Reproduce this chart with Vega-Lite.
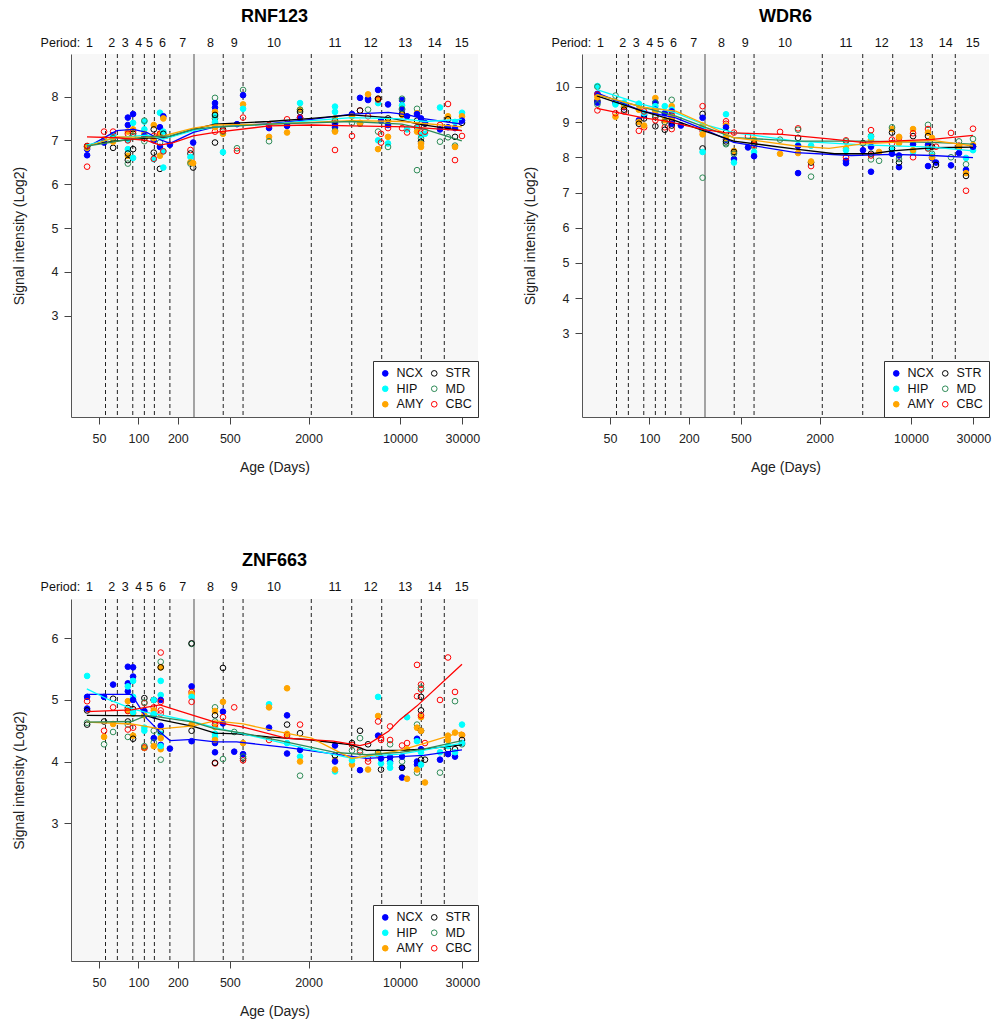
{
"$schema": "https://vega.github.io/schema/vega-lite/v6.json",
"padding": {"left": 12, "top": 7, "right": 4, "bottom": 2},
"config": {
 "font": "Liberation Sans",
 "view": {"fill": "#f7f7f7", "stroke": null},
 "axis": {"grid": false, "domainColor": "#555", "domainWidth": 1, "tickColor": "#444", "tickSize": 7, "labelFontSize": 12.5, "labelColor": "#222", "titleFontSize": 14, "titleFontWeight": "normal", "titleColor": "#222"},
 "axisX": {"labelPadding": 8, "titlePadding": 16},
 "axisY": {"labelPadding": 6, "titlePadding": 18},
 "title": {"fontSize": 18, "fontWeight": "bold", "color": "#000", "frame": "group", "offset": 11},
 "legend": {"orient": "bottom-right", "offset": 0, "padding": 6, "fillColor": "#ffffff", "strokeColor": "#333", "columns": 2, "symbolSize": 32, "symbolType": "circle", "symbolStrokeWidth": 1, "labelFontSize": 12.5, "labelColor": "#111", "rowPadding": 2.5, "columnPadding": 4, "labelOffset": 5}
},
"datasets": {
 "bnd": [{"a":56,"k":"p"},{"a":69,"k":"p"},{"a":90.5,"k":"p"},{"a":111,"k":"p"},{"a":132.4,"k":"p"},{"a":174,"k":"p"},{"a":266,"k":"b"},{"a":445,"k":"p"},{"a":631,"k":"p"},{"a":2098,"k":"p"},{"a":4276,"k":"p"},{"a":7250,"k":"p"},{"a":14555,"k":"p"},{"a":21820,"k":"p"}],
 "per": [{"t":"Period:","a":25.3},{"t":"1","a":42.2},{"t":"2","a":62.5},{"t":"3","a":79.4},{"t":"4","a":100.7},{"t":"5","a":121.2},{"t":"6","a":152.4},{"t":"7","a":218},{"t":"8","a":355},{"t":"9","a":541},{"t":"10","a":1089},{"t":"11","a":3185},{"t":"12","a":5970},{"t":"13","a":10980},{"t":"14","a":18440},{"t":"15","a":29640}],
 "p1": [
  {"r":"NCX","a":40.5,"v":6.66},{"r":"NCX","a":40.5,"v":6.8},{"r":"HIP","a":40.5,"v":6.85},{"r":"AMY","a":40.5,"v":6.83},{"r":"STR","a":40.5,"v":6.87},{"r":"MD","a":40.5,"v":6.86},{"r":"CBC","a":40.5,"v":6.4},{"r":"CBC","a":40.5,"v":6.87},
  {"r":"CBC","a":54.6,"v":7.2},{"r":"HIP","a":54.6,"v":7.0},{"r":"AMY","a":54.6,"v":7.02},{"r":"NCX","a":54.6,"v":6.95},
  {"r":"NCX","a":64,"v":7.12},{"r":"HIP","a":64,"v":7.1},{"r":"CBC","a":64,"v":7.2},{"r":"STR","a":64,"v":6.83},{"r":"AMY","a":64,"v":6.97},{"r":"MD","a":64,"v":7.05},
  {"r":"NCX","a":83,"v":7.52},{"r":"NCX","a":83,"v":7.35},{"r":"HIP","a":83,"v":7.0},{"r":"HIP","a":83,"v":6.8},{"r":"AMY","a":83,"v":7.2},{"r":"AMY","a":83,"v":6.65},{"r":"STR","a":83,"v":6.7},{"r":"STR","a":83,"v":6.55},{"r":"MD","a":83,"v":6.47},{"r":"CBC","a":83,"v":7.15},{"r":"CBC","a":83,"v":7.0},
  {"r":"NCX","a":91,"v":7.6},{"r":"HIP","a":91,"v":7.4},{"r":"AMY","a":91,"v":7.25},{"r":"STR","a":91,"v":7.15},{"r":"STR","a":91,"v":6.8},{"r":"HIP","a":91,"v":6.6},{"r":"CBC","a":91,"v":7.2},{"r":"MD","a":91,"v":7.1},
  {"r":"HIP","a":111,"v":7.43},{"r":"MD","a":111,"v":7.45},{"r":"HIP","a":111,"v":7.25},{"r":"AMY","a":111,"v":7.15},{"r":"NCX","a":111,"v":7.1},{"r":"STR","a":111,"v":7.05},{"r":"CBC","a":111,"v":7.05},{"r":"MD","a":111,"v":6.98},
  {"r":"AMY","a":131,"v":7.35},{"r":"STR","a":131,"v":7.25},{"r":"NCX","a":131,"v":7.0},{"r":"HIP","a":131,"v":6.57},{"r":"CBC","a":131,"v":6.58},{"r":"STR","a":131,"v":6.72},{"r":"MD","a":131,"v":7.05},{"r":"AMY","a":131,"v":7.05},{"r":"CBC","a":131,"v":7.1},
  {"r":"HIP","a":146,"v":7.63},{"r":"NCX","a":146,"v":7.3},{"r":"AMY","a":146,"v":7.15},{"r":"CBC","a":146,"v":7.15},{"r":"NCX","a":146,"v":6.85},{"r":"AMY","a":146,"v":6.65},{"r":"MD","a":146,"v":6.95},{"r":"STR","a":146,"v":6.35},
  {"r":"NCX","a":155,"v":7.55},{"r":"AMY","a":155,"v":7.5},{"r":"HIP","a":155,"v":7.2},{"r":"STR","a":155,"v":7.15},{"r":"HIP","a":155,"v":6.75},{"r":"HIP","a":155,"v":6.38},{"r":"CBC","a":155,"v":6.75},
  {"r":"NCX","a":174,"v":6.9},
  {"r":"CBC","a":250,"v":6.78},{"r":"STR","a":250,"v":6.7},{"r":"HIP","a":250,"v":6.62},{"r":"AMY","a":250,"v":6.5},{"r":"MD","a":250,"v":6.47},
  {"r":"NCX","a":262,"v":6.95},{"r":"STR","a":262,"v":6.38},{"r":"AMY","a":262,"v":6.48},
  {"r":"MD","a":385,"v":7.97},{"r":"NCX","a":385,"v":7.85},{"r":"NCX","a":385,"v":7.75},{"r":"AMY","a":385,"v":7.65},{"r":"HIP","a":385,"v":7.55},{"r":"AMY","a":385,"v":7.4},{"r":"MD","a":385,"v":7.5},{"r":"STR","a":385,"v":7.58},{"r":"CBC","a":385,"v":7.2},{"r":"STR","a":385,"v":6.95},{"r":"HIP","a":385,"v":7.42},{"r":"AMY","a":385,"v":7.3},
  {"r":"HIP","a":443,"v":6.73},{"r":"STR","a":443,"v":7.25},{"r":"AMY","a":443,"v":7.15},{"r":"MD","a":443,"v":7.2},{"r":"CBC","a":443,"v":7.22},
  {"r":"NCX","a":567,"v":7.37},{"r":"MD","a":567,"v":6.82},{"r":"CBC","a":567,"v":6.76},
  {"r":"MD","a":631,"v":8.15},{"r":"NCX","a":631,"v":8.03},{"r":"AMY","a":631,"v":7.82},{"r":"HIP","a":631,"v":7.72},{"r":"CBC","a":631,"v":7.52},
  {"r":"NCX","a":997,"v":7.28},{"r":"AMY","a":997,"v":7.08},{"r":"MD","a":997,"v":6.98},{"r":"CBC","a":997,"v":7.35},
  {"r":"AMY","a":1369,"v":7.18},{"r":"CBC","a":1369,"v":7.48},{"r":"CBC","a":1369,"v":7.35},{"r":"NCX","a":1369,"v":7.33},
  {"r":"HIP","a":1721,"v":7.85},{"r":"AMY","a":1721,"v":7.7},{"r":"MD","a":1721,"v":7.7},{"r":"STR","a":1721,"v":7.65},{"r":"NCX","a":1721,"v":7.52},{"r":"CBC","a":1721,"v":7.52},
  {"r":"HIP","a":3185,"v":7.77},{"r":"HIP","a":3185,"v":7.65},{"r":"AMY","a":3185,"v":7.5},{"r":"NCX","a":3185,"v":7.38},{"r":"NCX","a":3185,"v":7.3},{"r":"STR","a":3185,"v":7.45},{"r":"MD","a":3185,"v":7.22},{"r":"AMY","a":3185,"v":7.2},{"r":"CBC","a":3185,"v":6.78},
  {"r":"NCX","a":4295,"v":7.6},{"r":"AMY","a":4295,"v":7.55},{"r":"CBC","a":4295,"v":7.1},{"r":"MD","a":4295,"v":7.4},
  {"r":"NCX","a":4947,"v":7.97},{"r":"CBC","a":4947,"v":7.68},{"r":"STR","a":4947,"v":7.68},{"r":"HIP","a":4947,"v":7.38},{"r":"MD","a":4947,"v":7.38},{"r":"AMY","a":4947,"v":7.4},
  {"r":"NCX","a":5700,"v":7.95},{"r":"NCX","a":5700,"v":7.92},{"r":"AMY","a":5700,"v":8.05},{"r":"MD","a":5700,"v":7.7},{"r":"CBC","a":5700,"v":7.55},
  {"r":"NCX","a":6800,"v":8.15},{"r":"HIP","a":6800,"v":7.85},{"r":"AMY","a":6800,"v":7.95},{"r":"CBC","a":6800,"v":7.93},{"r":"STR","a":6800,"v":7.95},{"r":"MD","a":6800,"v":7.2},{"r":"HIP","a":6800,"v":7.0},{"r":"AMY","a":6800,"v":6.8},
  {"r":"NCX","a":7160,"v":7.45},{"r":"CBC","a":7160,"v":7.15},{"r":"CBC","a":7160,"v":6.95},
  {"r":"NCX","a":8100,"v":7.82},{"r":"AMY","a":8100,"v":7.45},{"r":"AMY","a":8100,"v":7.08},{"r":"HIP","a":8100,"v":6.93},{"r":"MD","a":8100,"v":6.85},{"r":"CBC","a":8100,"v":7.28},{"r":"STR","a":8100,"v":7.5},{"r":"NCX","a":8100,"v":7.35},
  {"r":"NCX","a":10370,"v":7.92},{"r":"MD","a":10370,"v":7.95},{"r":"HIP","a":10370,"v":7.8},{"r":"NCX","a":10370,"v":7.7},{"r":"AMY","a":10370,"v":7.58},{"r":"STR","a":10370,"v":7.6},{"r":"CBC","a":10370,"v":7.28},{"r":"MD","a":10370,"v":7.72},
  {"r":"NCX","a":11330,"v":7.55},{"r":"HIP","a":11330,"v":7.25},{"r":"CBC","a":11330,"v":7.18},
  {"r":"MD","a":13500,"v":7.72},{"r":"AMY","a":13500,"v":7.62},{"r":"NCX","a":13500,"v":7.6},{"r":"STR","a":13500,"v":7.45},{"r":"HIP","a":13500,"v":7.3},{"r":"CBC","a":13500,"v":7.3},{"r":"AMY","a":13500,"v":7.2},{"r":"MD","a":13500,"v":6.32},
  {"r":"NCX","a":14480,"v":7.5},{"r":"HIP","a":14480,"v":7.12},{"r":"MD","a":14480,"v":7.05},{"r":"STR","a":14480,"v":6.97},{"r":"AMY","a":14480,"v":6.92},{"r":"AMY","a":14480,"v":6.85},{"r":"CBC","a":14480,"v":7.18},
  {"r":"STR","a":15530,"v":7.38},{"r":"NCX","a":15530,"v":7.4},{"r":"HIP","a":15530,"v":7.15},{"r":"CBC","a":15530,"v":7.2},
  {"r":"HIP","a":20230,"v":7.75},{"r":"CBC","a":20230,"v":7.35},{"r":"NCX","a":20230,"v":7.25},{"r":"MD","a":20230,"v":6.97},
  {"r":"CBC","a":23290,"v":7.83},{"r":"AMY","a":23290,"v":7.55},{"r":"STR","a":23290,"v":7.48},{"r":"MD","a":23290,"v":7.07},{"r":"NCX","a":23290,"v":7.3},
  {"r":"HIP","a":26350,"v":7.42},{"r":"STR","a":26350,"v":7.08},{"r":"MD","a":26350,"v":6.88},{"r":"AMY","a":26350,"v":6.85},{"r":"CBC","a":26350,"v":6.55},{"r":"NCX","a":26350,"v":7.28},
  {"r":"HIP","a":29800,"v":7.63},{"r":"AMY","a":29800,"v":7.55},{"r":"STR","a":29800,"v":7.4},{"r":"CBC","a":29800,"v":7.1},{"r":"NCX","a":29800,"v":7.45}
 ],
 "l1": [
  {"r":"NCX","a":40.4,"v":6.84},{"r":"NCX","a":68.2,"v":7.22},{"r":"NCX","a":91.6,"v":7.25},{"r":"NCX","a":115.5,"v":7.18},{"r":"NCX","a":146,"v":7.02},{"r":"NCX","a":174.5,"v":6.93},{"r":"NCX","a":262.5,"v":7.18},{"r":"NCX","a":385,"v":7.31},{"r":"NCX","a":1000,"v":7.38},{"r":"NCX","a":2117,"v":7.48},{"r":"NCX","a":4280,"v":7.6},{"r":"NCX","a":8150,"v":7.64},{"r":"NCX","a":11600,"v":7.58},{"r":"NCX","a":14680,"v":7.5},{"r":"NCX","a":29700,"v":7.37},
  {"r":"STR","a":40.4,"v":6.89},{"r":"STR","a":68.2,"v":6.99},{"r":"STR","a":115.5,"v":7.05},{"r":"STR","a":164.6,"v":7.06},{"r":"STR","a":262.5,"v":7.25},{"r":"STR","a":385,"v":7.37},{"r":"STR","a":1000,"v":7.43},{"r":"STR","a":2117,"v":7.5},{"r":"STR","a":4280,"v":7.58},{"r":"STR","a":8150,"v":7.52},{"r":"STR","a":14680,"v":7.36},{"r":"STR","a":29700,"v":7.22},
  {"r":"HIP","a":40.4,"v":6.89},{"r":"HIP","a":68.2,"v":7.06},{"r":"HIP","a":115.5,"v":7.12},{"r":"HIP","a":155,"v":7.03},{"r":"HIP","a":262.5,"v":7.22},{"r":"HIP","a":385,"v":7.31},{"r":"HIP","a":1000,"v":7.37},{"r":"HIP","a":2117,"v":7.45},{"r":"HIP","a":4280,"v":7.52},{"r":"HIP","a":10330,"v":7.49},{"r":"HIP","a":15550,"v":7.43},{"r":"HIP","a":29700,"v":7.48},
  {"r":"AMY","a":40.4,"v":6.86},{"r":"AMY","a":68.2,"v":7.08},{"r":"AMY","a":115.5,"v":7.07},{"r":"AMY","a":155,"v":7.1},{"r":"AMY","a":262.5,"v":7.28},{"r":"AMY","a":385,"v":7.35},{"r":"AMY","a":1000,"v":7.37},{"r":"AMY","a":4280,"v":7.45},{"r":"AMY","a":10330,"v":7.43},{"r":"AMY","a":29700,"v":7.31},
  {"r":"MD","a":40.4,"v":6.87},{"r":"MD","a":68.2,"v":6.98},{"r":"MD","a":115.5,"v":7.08},{"r":"MD","a":174.5,"v":7.1},{"r":"MD","a":262.5,"v":7.25},{"r":"MD","a":385,"v":7.3},{"r":"MD","a":1000,"v":7.37},{"r":"MD","a":4280,"v":7.43},{"r":"MD","a":10330,"v":7.37},{"r":"MD","a":15550,"v":7.25},{"r":"MD","a":29700,"v":6.99},
  {"r":"CBC","a":40.4,"v":7.08},{"r":"CBC","a":68.2,"v":7.06},{"r":"CBC","a":115.5,"v":7.0},{"r":"CBC","a":146,"v":6.89},{"r":"CBC","a":185,"v":6.95},{"r":"CBC","a":262.5,"v":7.1},{"r":"CBC","a":385,"v":7.18},{"r":"CBC","a":1000,"v":7.33},{"r":"CBC","a":2117,"v":7.35},{"r":"CBC","a":4280,"v":7.33},{"r":"CBC","a":11600,"v":7.31},{"r":"CBC","a":29700,"v":7.22}
 ],
 "p2": [
  {"r":"HIP","a":40,"v":10.02},{"r":"MD","a":40,"v":10.0},{"r":"NCX","a":40,"v":9.8},{"r":"CBC","a":40,"v":9.78},{"r":"STR","a":40,"v":9.6},{"r":"NCX","a":40,"v":9.55},{"r":"MD","a":40,"v":9.5},{"r":"CBC","a":40,"v":9.33},{"r":"AMY","a":40,"v":9.7},
  {"r":"MD","a":55,"v":9.75},{"r":"NCX","a":55,"v":9.55},{"r":"HIP","a":55,"v":9.5},{"r":"AMY","a":55,"v":9.15},{"r":"CBC","a":55,"v":9.25},
  {"r":"NCX","a":64,"v":9.42},{"r":"AMY","a":64,"v":9.45},{"r":"CBC","a":64,"v":9.3},{"r":"STR","a":64,"v":9.35},{"r":"HIP","a":64,"v":9.55},
  {"r":"MD","a":83,"v":9.5},{"r":"HIP","a":83,"v":9.52},{"r":"AMY","a":83,"v":9.35},{"r":"NCX","a":83,"v":9.05},{"r":"AMY","a":83,"v":9.0},{"r":"STR","a":83,"v":8.95},{"r":"CBC","a":83,"v":8.75},
  {"r":"NCX","a":91,"v":9.2},{"r":"STR","a":91,"v":9.1},{"r":"CBC","a":91,"v":8.85},{"r":"AMY","a":91,"v":8.9},{"r":"HIP","a":91,"v":9.25},{"r":"CBC","a":91,"v":9.3},
  {"r":"AMY","a":111,"v":9.68},{"r":"NCX","a":111,"v":9.55},{"r":"MD","a":111,"v":9.55},{"r":"HIP","a":111,"v":9.45},{"r":"NCX","a":111,"v":9.35},{"r":"STR","a":111,"v":9.15},{"r":"STR","a":111,"v":8.88},{"r":"MD","a":111,"v":9.2},{"r":"AMY","a":111,"v":9.3},{"r":"CBC","a":111,"v":9.05},
  {"r":"NCX","a":131,"v":9.25},{"r":"AMY","a":131,"v":9.05},{"r":"CBC","a":131,"v":9.0},{"r":"CBC","a":131,"v":8.85},{"r":"STR","a":131,"v":8.78},{"r":"HIP","a":131,"v":9.45},{"r":"MD","a":131,"v":9.0},
  {"r":"MD","a":148,"v":9.63},{"r":"AMY","a":148,"v":9.45},{"r":"HIP","a":148,"v":9.35},{"r":"NCX","a":148,"v":9.3},{"r":"CBC","a":148,"v":9.2},{"r":"CBC","a":148,"v":9.1},{"r":"STR","a":148,"v":9.0},{"r":"CBC","a":148,"v":8.8},{"r":"AMY","a":148,"v":9.15},{"r":"NCX","a":148,"v":8.95},{"r":"STR","a":148,"v":8.9},
  {"r":"NCX","a":174,"v":8.9},
  {"r":"CBC","a":255,"v":9.45},{"r":"STR","a":255,"v":9.23},{"r":"NCX","a":255,"v":9.12},{"r":"AMY","a":255,"v":8.9},{"r":"CBC","a":255,"v":8.75},{"r":"STR","a":255,"v":8.25},{"r":"HIP","a":255,"v":8.15},{"r":"MD","a":255,"v":7.42},{"r":"HIP","a":255,"v":8.8},{"r":"AMY","a":255,"v":8.65},
  {"r":"HIP","a":385,"v":9.22},{"r":"CBC","a":385,"v":9.02},{"r":"CBC","a":385,"v":8.95},{"r":"AMY","a":385,"v":8.9},{"r":"NCX","a":385,"v":8.85},{"r":"STR","a":385,"v":8.7},{"r":"NCX","a":385,"v":8.5},{"r":"HIP","a":385,"v":8.6},{"r":"MD","a":385,"v":8.4},{"r":"MD","a":385,"v":8.37},{"r":"AMY","a":385,"v":8.55},{"r":"STR","a":385,"v":8.45},
  {"r":"CBC","a":443,"v":8.7},{"r":"AMY","a":443,"v":8.18},{"r":"NCX","a":443,"v":7.95},{"r":"HIP","a":443,"v":7.85},{"r":"STR","a":443,"v":8.15},{"r":"MD","a":443,"v":8.1},
  {"r":"NCX","a":567,"v":8.28},{"r":"CBC","a":567,"v":8.6},
  {"r":"AMY","a":631,"v":8.5},{"r":"STR","a":631,"v":8.4},{"r":"CBC","a":631,"v":8.35},{"r":"MD","a":631,"v":8.3},{"r":"HIP","a":631,"v":8.15},{"r":"NCX","a":631,"v":8.03},
  {"r":"CBC","a":997,"v":8.72},{"r":"MD","a":997,"v":8.5},{"r":"AMY","a":997,"v":8.1},
  {"r":"CBC","a":1369,"v":8.82},{"r":"MD","a":1369,"v":8.78},{"r":"STR","a":1369,"v":8.55},{"r":"HIP","a":1369,"v":8.35},{"r":"AMY","a":1369,"v":8.12},{"r":"NCX","a":1369,"v":7.55},{"r":"NCX","a":1369,"v":8.32},
  {"r":"HIP","a":1721,"v":8.33},{"r":"CBC","a":1721,"v":7.75},{"r":"STR","a":1721,"v":7.85},{"r":"AMY","a":1721,"v":7.88},{"r":"MD","a":1721,"v":7.45},
  {"r":"CBC","a":3185,"v":8.48},{"r":"MD","a":3185,"v":8.45},{"r":"AMY","a":3185,"v":8.25},{"r":"HIP","a":3185,"v":8.2},{"r":"NCX","a":3185,"v":7.9},{"r":"NCX","a":3185,"v":7.83},{"r":"CBC","a":3185,"v":8.0},
  {"r":"CBC","a":4295,"v":8.4},{"r":"STR","a":4295,"v":8.4},{"r":"NCX","a":4295,"v":8.2},
  {"r":"CBC","a":4947,"v":8.77},{"r":"MD","a":4947,"v":8.6},{"r":"AMY","a":4947,"v":8.5},{"r":"HIP","a":4947,"v":8.58},{"r":"NCX","a":4947,"v":8.3},{"r":"STR","a":4947,"v":8.1},{"r":"MD","a":4947,"v":7.94},{"r":"NCX","a":4947,"v":7.59},{"r":"CBC","a":4947,"v":8.05},
  {"r":"AMY","a":5700,"v":8.15},{"r":"MD","a":5700,"v":7.9},
  {"r":"AMY","a":7160,"v":8.8},{"r":"MD","a":7160,"v":8.85},{"r":"STR","a":7160,"v":8.7},{"r":"CBC","a":7160,"v":8.5},{"r":"HIP","a":7160,"v":8.2},{"r":"NCX","a":7160,"v":8.1},{"r":"STR","a":7160,"v":8.25},{"r":"CBC","a":7160,"v":8.4},
  {"r":"CBC","a":8100,"v":8.55},{"r":"AMY","a":8100,"v":8.58},{"r":"NCX","a":8100,"v":8.05},{"r":"NCX","a":8100,"v":7.72},{"r":"STR","a":8100,"v":7.85},{"r":"MD","a":8100,"v":7.95},{"r":"AMY","a":8100,"v":8.4},
  {"r":"STR","a":10370,"v":8.6},{"r":"AMY","a":10370,"v":8.8},{"r":"CBC","a":10370,"v":8.68},{"r":"HIP","a":10370,"v":8.15},{"r":"NCX","a":10370,"v":8.37},{"r":"CBC","a":10370,"v":8.0},{"r":"AMY","a":10370,"v":8.2},
  {"r":"MD","a":13500,"v":8.92},{"r":"CBC","a":13500,"v":8.8},{"r":"AMY","a":13500,"v":8.7},{"r":"STR","a":13500,"v":8.6},{"r":"NCX","a":13500,"v":8.35},{"r":"HIP","a":13500,"v":8.25},{"r":"CBC","a":13500,"v":8.25},{"r":"NCX","a":13500,"v":7.75},
  {"r":"AMY","a":14480,"v":8.55},{"r":"STR","a":14480,"v":8.3},{"r":"HIP","a":14480,"v":8.05},{"r":"NCX","a":14480,"v":7.98},{"r":"AMY","a":14480,"v":8.0},{"r":"MD","a":14480,"v":8.1},
  {"r":"NCX","a":15530,"v":7.85},{"r":"STR","a":15530,"v":7.78},{"r":"CBC","a":15530,"v":8.3},
  {"r":"CBC","a":20230,"v":8.69},{"r":"MD","a":20230,"v":8.0},{"r":"NCX","a":20230,"v":7.77},
  {"r":"CBC","a":23290,"v":8.33},{"r":"MD","a":23290,"v":8.45},{"r":"STR","a":23290,"v":8.28},{"r":"NCX","a":23290,"v":8.12},{"r":"AMY","a":23290,"v":8.3},
  {"r":"HIP","a":26350,"v":7.98},{"r":"MD","a":26350,"v":7.8},{"r":"NCX","a":26350,"v":7.64},{"r":"AMY","a":26350,"v":7.55},{"r":"STR","a":26350,"v":7.47},{"r":"CBC","a":26350,"v":7.05},
  {"r":"CBC","a":29800,"v":8.81},{"r":"MD","a":29800,"v":8.52},{"r":"AMY","a":29800,"v":8.35},{"r":"STR","a":29800,"v":8.3},{"r":"HIP","a":29800,"v":8.2},{"r":"NCX","a":29800,"v":8.3}
 ],
 "l2": [
  {"r":"NCX","a":39.6,"v":9.83},{"r":"NCX","a":88.4,"v":9.31},{"r":"NCX","a":159,"v":9.12},{"r":"NCX","a":261.6,"v":8.79},{"r":"NCX","a":441,"v":8.42},{"r":"NCX","a":1318,"v":8.13},{"r":"NCX","a":3500,"v":8.05},{"r":"NCX","a":7220,"v":8.08},{"r":"NCX","a":14580,"v":8.05},{"r":"NCX","a":29800,"v":7.99},
  {"r":"STR","a":39.6,"v":9.74},{"r":"STR","a":88.4,"v":9.31},{"r":"STR","a":159,"v":9.03},{"r":"STR","a":261.6,"v":8.75},{"r":"STR","a":441,"v":8.46},{"r":"STR","a":1318,"v":8.23},{"r":"STR","a":2600,"v":8.1},{"r":"STR","a":5000,"v":8.1},{"r":"STR","a":7220,"v":8.18},{"r":"STR","a":14580,"v":8.27},{"r":"STR","a":29800,"v":8.29},
  {"r":"HIP","a":39.6,"v":9.92},{"r":"HIP","a":88.4,"v":9.5},{"r":"HIP","a":159,"v":9.26},{"r":"HIP","a":261.6,"v":8.93},{"r":"HIP","a":441,"v":8.7},{"r":"HIP","a":1318,"v":8.46},{"r":"HIP","a":4250,"v":8.35},{"r":"HIP","a":14580,"v":8.29},{"r":"HIP","a":29800,"v":8.18},
  {"r":"MD","a":39.6,"v":9.78},{"r":"MD","a":88.4,"v":9.42},{"r":"MD","a":159,"v":9.17},{"r":"MD","a":261.6,"v":8.86},{"r":"MD","a":441,"v":8.56},{"r":"MD","a":1318,"v":8.46},{"r":"MD","a":4250,"v":8.46},{"r":"MD","a":14580,"v":8.42},{"r":"MD","a":29800,"v":8.37},
  {"r":"AMY","a":39.6,"v":9.78},{"r":"AMY","a":88.4,"v":9.42},{"r":"AMY","a":159,"v":9.31},{"r":"AMY","a":261.6,"v":8.95},{"r":"AMY","a":441,"v":8.56},{"r":"AMY","a":1318,"v":8.32},{"r":"AMY","a":2364,"v":8.25},{"r":"AMY","a":4250,"v":8.38},{"r":"AMY","a":14580,"v":8.48},{"r":"AMY","a":29800,"v":8.32},
  {"r":"CBC","a":39.6,"v":9.39},{"r":"CBC","a":90,"v":9.12},{"r":"CBC","a":131,"v":9.03},{"r":"CBC","a":257,"v":8.79},{"r":"CBC","a":378,"v":8.7},{"r":"CBC","a":1030,"v":8.65},{"r":"CBC","a":2364,"v":8.52},{"r":"CBC","a":4250,"v":8.42},{"r":"CBC","a":7220,"v":8.46},{"r":"CBC","a":14580,"v":8.51},{"r":"CBC","a":29800,"v":8.62}
 ],
 "p3": [
  {"r":"HIP","a":40.5,"v":5.39},{"r":"NCX","a":40.5,"v":5.05},{"r":"CBC","a":40.5,"v":4.98},{"r":"NCX","a":40.5,"v":4.86},{"r":"STR","a":40.5,"v":4.83},{"r":"MD","a":40.5,"v":4.63},{"r":"STR","a":40.5,"v":4.6},
  {"r":"NCX","a":54.6,"v":5.05},{"r":"STR","a":54.6,"v":4.65},{"r":"CBC","a":54.6,"v":4.5},{"r":"MD","a":54.6,"v":4.28},{"r":"AMY","a":54.6,"v":4.4},
  {"r":"NCX","a":64,"v":5.25},{"r":"STR","a":64,"v":5.02},{"r":"CBC","a":64,"v":4.88},{"r":"AMY","a":64,"v":4.61},{"r":"MD","a":64,"v":4.48},
  {"r":"NCX","a":83,"v":5.54},{"r":"NCX","a":83,"v":5.27},{"r":"NCX","a":83,"v":5.14},{"r":"HIP","a":83,"v":5.22},{"r":"AMY","a":83,"v":4.98},{"r":"STR","a":83,"v":4.87},{"r":"AMY","a":83,"v":4.83},{"r":"CBC","a":83,"v":4.82},{"r":"MD","a":83,"v":4.6},{"r":"MD","a":83,"v":4.4},{"r":"CBC","a":83,"v":4.52},{"r":"STR","a":83,"v":4.65},
  {"r":"NCX","a":91,"v":5.53},{"r":"NCX","a":91,"v":5.38},{"r":"HIP","a":91,"v":5.31},{"r":"HIP","a":91,"v":5.05},{"r":"NCX","a":91,"v":5.0},{"r":"STR","a":91,"v":4.85},{"r":"AMY","a":91,"v":4.78},{"r":"HIP","a":91,"v":4.8},{"r":"AMY","a":91,"v":4.42},{"r":"STR","a":91,"v":4.37},{"r":"CBC","a":91,"v":4.55},
  {"r":"STR","a":111,"v":5.03},{"r":"CBC","a":111,"v":4.95},{"r":"MD","a":111,"v":4.96},{"r":"NCX","a":111,"v":4.82},{"r":"AMY","a":111,"v":4.75},{"r":"HIP","a":111,"v":4.5},{"r":"HIP","a":111,"v":4.55},{"r":"NCX","a":111,"v":4.22},{"r":"AMY","a":111,"v":4.22},{"r":"CBC","a":111,"v":4.23},{"r":"MD","a":111,"v":4.25},
  {"r":"CBC","a":131,"v":5.0},{"r":"STR","a":131,"v":5.0},{"r":"HIP","a":131,"v":5.0},{"r":"CBC","a":131,"v":4.88},{"r":"AMY","a":131,"v":4.83},{"r":"NCX","a":131,"v":4.75},{"r":"HIP","a":131,"v":4.77},{"r":"MD","a":131,"v":4.5},{"r":"NCX","a":131,"v":4.38},{"r":"MD","a":131,"v":4.31},{"r":"AMY","a":131,"v":4.25},
  {"r":"CBC","a":148,"v":5.77},{"r":"MD","a":148,"v":5.62},{"r":"AMY","a":148,"v":5.53},{"r":"STR","a":148,"v":5.53},{"r":"HIP","a":148,"v":5.31},{"r":"HIP","a":148,"v":5.08},{"r":"NCX","a":148,"v":5.0},{"r":"CBC","a":148,"v":4.97},{"r":"CBC","a":148,"v":4.83},{"r":"CBC","a":148,"v":4.78},{"r":"NCX","a":148,"v":4.58},{"r":"HIP","a":148,"v":4.45},{"r":"NCX","a":148,"v":4.27},{"r":"STR","a":148,"v":4.49},{"r":"AMY","a":148,"v":4.38},{"r":"AMY","a":148,"v":4.2},{"r":"HIP","a":148,"v":4.25},{"r":"MD","a":148,"v":4.03},
  {"r":"NCX","a":174,"v":4.21},
  {"r":"MD","a":255,"v":5.91},{"r":"STR","a":255,"v":5.92},{"r":"NCX","a":255,"v":5.22},{"r":"CBC","a":255,"v":5.13},{"r":"AMY","a":255,"v":5.1},{"r":"HIP","a":255,"v":5.05},{"r":"CBC","a":255,"v":4.97},{"r":"STR","a":255,"v":4.5},{"r":"NCX","a":255,"v":4.33},{"r":"AMY","a":255,"v":4.6},
  {"r":"MD","a":385,"v":4.88},{"r":"AMY","a":385,"v":4.82},{"r":"STR","a":385,"v":4.75},{"r":"MD","a":385,"v":4.65},{"r":"AMY","a":385,"v":4.56},{"r":"CBC","a":385,"v":4.6},{"r":"HIP","a":385,"v":4.45},{"r":"HIP","a":385,"v":4.4},{"r":"NCX","a":385,"v":4.3},{"r":"AMY","a":385,"v":4.35},{"r":"NCX","a":385,"v":4.15},{"r":"CBC","a":385,"v":3.97},{"r":"STR","a":385,"v":3.98},
  {"r":"STR","a":443,"v":5.52},{"r":"AMY","a":443,"v":4.97},{"r":"NCX","a":443,"v":4.81},{"r":"CBC","a":443,"v":4.72},{"r":"MD","a":443,"v":4.04},{"r":"NCX","a":443,"v":4.62},
  {"r":"CBC","a":540,"v":4.88},{"r":"NCX","a":540,"v":4.16},{"r":"MD","a":540,"v":4.48},
  {"r":"STR","a":631,"v":4.05},{"r":"CBC","a":631,"v":4.02},{"r":"NCX","a":631,"v":4.12},{"r":"MD","a":631,"v":4.08},{"r":"AMY","a":631,"v":4.3},
  {"r":"HIP","a":997,"v":4.93},{"r":"AMY","a":997,"v":4.88},{"r":"NCX","a":997,"v":4.55},{"r":"CBC","a":997,"v":4.35},
  {"r":"AMY","a":1369,"v":5.19},{"r":"NCX","a":1369,"v":4.75},{"r":"STR","a":1369,"v":4.6},{"r":"AMY","a":1369,"v":4.45},{"r":"CBC","a":1369,"v":4.42},{"r":"HIP","a":1369,"v":4.3},{"r":"NCX","a":1369,"v":4.13},
  {"r":"CBC","a":1721,"v":4.6},{"r":"STR","a":1721,"v":4.46},{"r":"NCX","a":1721,"v":4.19},{"r":"HIP","a":1721,"v":4.08},{"r":"AMY","a":1721,"v":4.0},{"r":"MD","a":1721,"v":3.77},
  {"r":"NCX","a":3185,"v":4.26},{"r":"AMY","a":3185,"v":4.02},{"r":"HIP","a":3185,"v":3.84},{"r":"AMY","a":3185,"v":3.87},{"r":"MD","a":3185,"v":4.1},{"r":"STR","a":3185,"v":4.1},{"r":"NCX","a":3185,"v":4.0},
  {"r":"CBC","a":4295,"v":4.27},{"r":"STR","a":4295,"v":4.3},{"r":"AMY","a":4295,"v":3.95},{"r":"MD","a":4295,"v":4.18},{"r":"HIP","a":4295,"v":4.02},
  {"r":"NCX","a":4947,"v":3.86},{"r":"STR","a":4947,"v":4.5},{"r":"MD","a":4947,"v":4.38},{"r":"CBC","a":4947,"v":4.18},{"r":"MD","a":4947,"v":4.15},
  {"r":"AMY","a":5700,"v":3.87},{"r":"CBC","a":5700,"v":4.0},{"r":"STR","a":5700,"v":4.28},{"r":"CBC","a":5700,"v":4.05},
  {"r":"AMY","a":6800,"v":4.74},{"r":"CBC","a":6800,"v":4.65},{"r":"NCX","a":6800,"v":4.42},{"r":"HIP","a":6800,"v":5.05},{"r":"AMY","a":6800,"v":4.12},{"r":"MD","a":6800,"v":4.15},
  {"r":"CBC","a":7160,"v":4.35},{"r":"STR","a":7160,"v":3.87},{"r":"HIP","a":7160,"v":3.97},{"r":"NCX","a":7160,"v":4.05},{"r":"CBC","a":7160,"v":4.38},
  {"r":"CBC","a":8400,"v":4.57},{"r":"NCX","a":8400,"v":4.0},{"r":"HIP","a":8400,"v":3.9},{"r":"NCX","a":8400,"v":4.07},{"r":"MD","a":8400,"v":4.28},{"r":"CBC","a":8400,"v":4.35},{"r":"HIP","a":8400,"v":3.97},
  {"r":"NCX","a":10370,"v":3.74},{"r":"NCX","a":10370,"v":3.9},{"r":"STR","a":10370,"v":3.9},{"r":"CBC","a":10370,"v":4.26},{"r":"MD","a":10370,"v":4.0},{"r":"NCX","a":10370,"v":4.08},
  {"r":"AMY","a":11330,"v":3.72},{"r":"CBC","a":11330,"v":4.3},{"r":"HIP","a":11330,"v":4.72},{"r":"AMY","a":11330,"v":4.2},
  {"r":"CBC","a":13500,"v":5.57},{"r":"CBC","a":13500,"v":5.06},{"r":"MD","a":13500,"v":4.6},{"r":"AMY","a":13500,"v":4.55},{"r":"NCX","a":13500,"v":4.37},{"r":"HIP","a":13500,"v":4.33},{"r":"NCX","a":13500,"v":4.0},{"r":"NCX","a":13500,"v":3.95},{"r":"MD","a":13500,"v":3.82},{"r":"AMY","a":13500,"v":3.87},
  {"r":"CBC","a":14480,"v":5.25},{"r":"CBC","a":14480,"v":5.17},{"r":"MD","a":14480,"v":5.2},{"r":"STR","a":14480,"v":5.05},{"r":"STR","a":14480,"v":4.83},{"r":"AMY","a":14480,"v":4.72},{"r":"CBC","a":14480,"v":4.75},{"r":"STR","a":14480,"v":4.5},{"r":"AMY","a":14480,"v":4.5},{"r":"NCX","a":14480,"v":4.2},{"r":"HIP","a":14480,"v":4.15},{"r":"STR","a":14480,"v":4.03},{"r":"HIP","a":14480,"v":3.95},
  {"r":"AMY","a":15530,"v":3.66},{"r":"CBC","a":15530,"v":4.3},{"r":"STR","a":15530,"v":4.03},
  {"r":"CBC","a":20230,"v":5.0},{"r":"NCX","a":20230,"v":4.03},{"r":"MD","a":20230,"v":3.82},{"r":"HIP","a":20230,"v":4.15},
  {"r":"CBC","a":23290,"v":5.69},{"r":"AMY","a":23290,"v":4.42},{"r":"STR","a":23290,"v":4.2},{"r":"HIP","a":23290,"v":4.25},{"r":"NCX","a":23290,"v":4.12},{"r":"AMY","a":23290,"v":4.35},
  {"r":"CBC","a":26350,"v":5.13},{"r":"MD","a":26350,"v":4.98},{"r":"AMY","a":26350,"v":4.47},{"r":"NCX","a":26350,"v":4.08},{"r":"STR","a":26350,"v":4.2},{"r":"HIP","a":26350,"v":4.15},
  {"r":"HIP","a":29800,"v":4.6},{"r":"CBC","a":29800,"v":4.43},{"r":"AMY","a":29800,"v":4.43},{"r":"NCX","a":29800,"v":4.3},{"r":"STR","a":29800,"v":4.35},{"r":"MD","a":29800,"v":4.28},{"r":"HIP","a":29800,"v":4.3}
 ],
 "l3": [
  {"r":"NCX","a":40.3,"v":5.09},{"r":"NCX","a":88.6,"v":5.09},{"r":"NCX","a":115.5,"v":4.7},{"r":"NCX","a":146,"v":4.48},{"r":"NCX","a":174.5,"v":4.34},{"r":"NCX","a":262.5,"v":4.36},{"r":"NCX","a":385,"v":4.32},{"r":"NCX","a":563,"v":4.32},{"r":"NCX","a":1340,"v":4.23},{"r":"NCX","a":3185,"v":4.12},{"r":"NCX","a":5560,"v":4.05},{"r":"NCX","a":10000,"v":4.08},{"r":"NCX","a":15130,"v":4.1},{"r":"NCX","a":29800,"v":4.19},
  {"r":"STR","a":40.3,"v":4.75},{"r":"STR","a":115.5,"v":4.74},{"r":"STR","a":146,"v":4.68},{"r":"STR","a":262.5,"v":4.57},{"r":"STR","a":385,"v":4.46},{"r":"STR","a":563,"v":4.45},{"r":"STR","a":990,"v":4.4},{"r":"STR","a":2110,"v":4.35},{"r":"STR","a":4270,"v":4.27},{"r":"STR","a":5560,"v":4.18},{"r":"STR","a":10000,"v":4.18},{"r":"STR","a":15130,"v":4.2},{"r":"STR","a":29800,"v":4.27},
  {"r":"HIP","a":40.3,"v":5.18},{"r":"HIP","a":60,"v":5.0},{"r":"HIP","a":91,"v":4.85},{"r":"HIP","a":115,"v":4.8},{"r":"HIP","a":154,"v":4.75},{"r":"HIP","a":262,"v":4.65},{"r":"HIP","a":385,"v":4.55},{"r":"HIP","a":630,"v":4.45},{"r":"HIP","a":1000,"v":4.35},{"r":"HIP","a":2000,"v":4.2},{"r":"HIP","a":4300,"v":4.05},{"r":"HIP","a":7000,"v":4.1},{"r":"HIP","a":10000,"v":4.12},{"r":"HIP","a":15000,"v":4.18},{"r":"HIP","a":29800,"v":4.3},
  {"r":"AMY","a":40.3,"v":4.64},{"r":"AMY","a":88.6,"v":4.61},{"r":"AMY","a":146,"v":4.53},{"r":"AMY","a":262.5,"v":4.58},{"r":"AMY","a":385,"v":4.66},{"r":"AMY","a":632,"v":4.61},{"r":"AMY","a":1340,"v":4.46},{"r":"AMY","a":2110,"v":4.38},{"r":"AMY","a":4270,"v":4.05},{"r":"AMY","a":6850,"v":4.12},{"r":"AMY","a":10000,"v":4.18},{"r":"AMY","a":15130,"v":4.29},{"r":"AMY","a":29800,"v":4.48},
  {"r":"MD","a":40.3,"v":4.64},{"r":"MD","a":88.6,"v":4.65},{"r":"MD","a":115.5,"v":4.75},{"r":"MD","a":146,"v":4.72},{"r":"MD","a":262.5,"v":4.64},{"r":"MD","a":385,"v":4.53},{"r":"MD","a":632,"v":4.46},{"r":"MD","a":1340,"v":4.32},{"r":"MD","a":3185,"v":4.15},{"r":"MD","a":5560,"v":4.11},{"r":"MD","a":10000,"v":4.15},{"r":"MD","a":15130,"v":4.2},{"r":"MD","a":29800,"v":4.34},
  {"r":"CBC","a":40.3,"v":4.81},{"r":"CBC","a":88.6,"v":4.84},{"r":"CBC","a":146,"v":4.92},{"r":"CBC","a":262.5,"v":4.75},{"r":"CBC","a":385,"v":4.64},{"r":"CBC","a":632,"v":4.56},{"r":"CBC","a":1340,"v":4.38},{"r":"CBC","a":3090,"v":4.33},{"r":"CBC","a":4940,"v":4.26},{"r":"CBC","a":5900,"v":4.3},{"r":"CBC","a":8170,"v":4.49},{"r":"CBC","a":10000,"v":4.68},{"r":"CBC","a":13440,"v":4.9},{"r":"CBC","a":29800,"v":5.58}
 ]
},
"columns": 2,
"spacing": {"row": 77, "column": 43},
"resolve": {"scale": {"x": "independent", "y": "independent", "fill": "independent", "stroke": "independent", "color": "independent"}, "axis": {"x": "independent", "y": "independent"}, "legend": {"fill": "independent", "stroke": "independent", "color": "independent"}},
"concat": [
 {
  "width": 407, "height": 363,
  "title": "RNF123",
  "encoding": {"x": {"field": "a", "type": "quantitative", "scale": {"type": "log", "domain": [30.5, 39500], "nice": false}, "axis": {"values": [50, 100, 200, 500, 2000, 10000, 30000], "format": "d", "title": "Age (Days)"}}},
  "layer": [
   {"data": {"name": "bnd"}, "transform": [{"filter": "datum.k == 'p'"}], "mark": {"type": "rule", "strokeDash": [4, 3], "color": "#222", "strokeWidth": 1}, "encoding": {"x": {"field": "a", "type": "quantitative"}}},
   {"data": {"name": "bnd"}, "transform": [{"filter": "datum.k == 'b'"}], "mark": {"type": "rule", "color": "#777", "strokeWidth": 1.3}, "encoding": {"x": {"field": "a", "type": "quantitative"}}},
   {"data": {"name": "p1"}, "mark": {"type": "point", "shape": "circle", "size": 32, "strokeWidth": 1, "opacity": 1},
    "encoding": {
     "y": {"field": "v", "type": "quantitative", "scale": {"domain": [0.69, 8.97], "nice": false, "zero": false}, "axis": {"values": [3, 4, 5, 6, 7, 8], "format": "d", "titlePadding": 25, "title": "Signal intensity (Log2)"}},
     "fill": {"field": "r", "type": "nominal", "scale": {"domain": ["NCX", "HIP", "AMY", "STR", "MD", "CBC"], "range": ["#0000ff", "#00ffff", "#ffa500", "transparent", "transparent", "transparent"]}, "legend": {"title": null}},
     "stroke": {"field": "r", "type": "nominal", "scale": {"domain": ["NCX", "HIP", "AMY", "STR", "MD", "CBC"], "range": ["#0000ff", "#00ffff", "#ffa500", "#000000", "#2e8b57", "#ff0000"]}, "legend": {"title": null}}
    }},
   {"data": {"name": "l1"}, "mark": {"type": "line", "strokeWidth": 1.3},
    "encoding": {"y": {"field": "v", "type": "quantitative", "title": "Signal intensity (Log2)"}, "color": {"field": "r", "type": "nominal", "scale": {"domain": ["NCX", "HIP", "AMY", "STR", "MD", "CBC"], "range": ["#0000ff", "#00ffff", "#ffa500", "#000000", "#2e8b57", "#ff0000"]}, "legend": null}}},
   {"data": {"name": "per"}, "mark": {"type": "text", "fontSize": 12.5, "clip": false, "color": "#111"}, "encoding": {"y": {"datum": 9.23, "type": "quantitative"}, "text": {"field": "t"}}}
  ]
 },
 {
  "width": 407, "height": 363,
  "title": "WDR6",
  "encoding": {"x": {"field": "a", "type": "quantitative", "scale": {"type": "log", "domain": [30.5, 39500], "nice": false}, "axis": {"values": [50, 100, 200, 500, 2000, 10000, 30000], "format": "d", "title": "Age (Days)"}}},
  "layer": [
   {"data": {"name": "bnd"}, "transform": [{"filter": "datum.k == 'p'"}], "mark": {"type": "rule", "strokeDash": [4, 3], "color": "#222", "strokeWidth": 1}, "encoding": {"x": {"field": "a", "type": "quantitative"}}},
   {"data": {"name": "bnd"}, "transform": [{"filter": "datum.k == 'b'"}], "mark": {"type": "rule", "color": "#777", "strokeWidth": 1.3}, "encoding": {"x": {"field": "a", "type": "quantitative"}}},
   {"data": {"name": "p2"}, "mark": {"type": "point", "shape": "circle", "size": 32, "strokeWidth": 1, "opacity": 1},
    "encoding": {
     "y": {"field": "v", "type": "quantitative", "scale": {"domain": [0.63, 10.93], "nice": false, "zero": false}, "axis": {"values": [3, 4, 5, 6, 7, 8, 9, 10], "format": "d", "title": "Signal intensity (Log2)"}},
     "fill": {"field": "r", "type": "nominal", "scale": {"domain": ["NCX", "HIP", "AMY", "STR", "MD", "CBC"], "range": ["#0000ff", "#00ffff", "#ffa500", "transparent", "transparent", "transparent"]}, "legend": {"title": null}},
     "stroke": {"field": "r", "type": "nominal", "scale": {"domain": ["NCX", "HIP", "AMY", "STR", "MD", "CBC"], "range": ["#0000ff", "#00ffff", "#ffa500", "#000000", "#2e8b57", "#ff0000"]}, "legend": {"title": null}}
    }},
   {"data": {"name": "l2"}, "mark": {"type": "line", "strokeWidth": 1.3},
    "encoding": {"y": {"field": "v", "type": "quantitative", "title": "Signal intensity (Log2)"}, "color": {"field": "r", "type": "nominal", "scale": {"domain": ["NCX", "HIP", "AMY", "STR", "MD", "CBC"], "range": ["#0000ff", "#00ffff", "#ffa500", "#000000", "#2e8b57", "#ff0000"]}, "legend": null}}},
   {"data": {"name": "per"}, "mark": {"type": "text", "fontSize": 12.5, "clip": false, "color": "#111"}, "encoding": {"y": {"datum": 11.24, "type": "quantitative"}, "text": {"field": "t"}}}
  ]
 },
 {
  "width": 407, "height": 362,
  "title": "ZNF663",
  "encoding": {"x": {"field": "a", "type": "quantitative", "scale": {"type": "log", "domain": [30.5, 39500], "nice": false}, "axis": {"values": [50, 100, 200, 500, 2000, 10000, 30000], "format": "d", "title": "Age (Days)"}}},
  "layer": [
   {"data": {"name": "bnd"}, "transform": [{"filter": "datum.k == 'p'"}], "mark": {"type": "rule", "strokeDash": [4, 3], "color": "#222", "strokeWidth": 1}, "encoding": {"x": {"field": "a", "type": "quantitative"}}},
   {"data": {"name": "bnd"}, "transform": [{"filter": "datum.k == 'b'"}], "mark": {"type": "rule", "color": "#777", "strokeWidth": 1.3}, "encoding": {"x": {"field": "a", "type": "quantitative"}}},
   {"data": {"name": "p3"}, "mark": {"type": "point", "shape": "circle", "size": 32, "strokeWidth": 1, "opacity": 1},
    "encoding": {
     "y": {"field": "v", "type": "quantitative", "scale": {"domain": [0.76, 6.64], "nice": false, "zero": false}, "axis": {"values": [3, 4, 5, 6], "format": "d", "titlePadding": 25, "title": "Signal intensity (Log2)"}},
     "fill": {"field": "r", "type": "nominal", "scale": {"domain": ["NCX", "HIP", "AMY", "STR", "MD", "CBC"], "range": ["#0000ff", "#00ffff", "#ffa500", "transparent", "transparent", "transparent"]}, "legend": {"title": null}},
     "stroke": {"field": "r", "type": "nominal", "scale": {"domain": ["NCX", "HIP", "AMY", "STR", "MD", "CBC"], "range": ["#0000ff", "#00ffff", "#ffa500", "#000000", "#2e8b57", "#ff0000"]}, "legend": {"title": null}}
    }},
   {"data": {"name": "l3"}, "mark": {"type": "line", "strokeWidth": 1.3},
    "encoding": {"y": {"field": "v", "type": "quantitative", "title": "Signal intensity (Log2)"}, "color": {"field": "r", "type": "nominal", "scale": {"domain": ["NCX", "HIP", "AMY", "STR", "MD", "CBC"], "range": ["#0000ff", "#00ffff", "#ffa500", "#000000", "#2e8b57", "#ff0000"]}, "legend": null}}},
   {"data": {"name": "per"}, "mark": {"type": "text", "fontSize": 12.5, "clip": false, "color": "#111"}, "encoding": {"y": {"datum": 6.83, "type": "quantitative"}, "text": {"field": "t"}}}
  ]
 }
]
}
